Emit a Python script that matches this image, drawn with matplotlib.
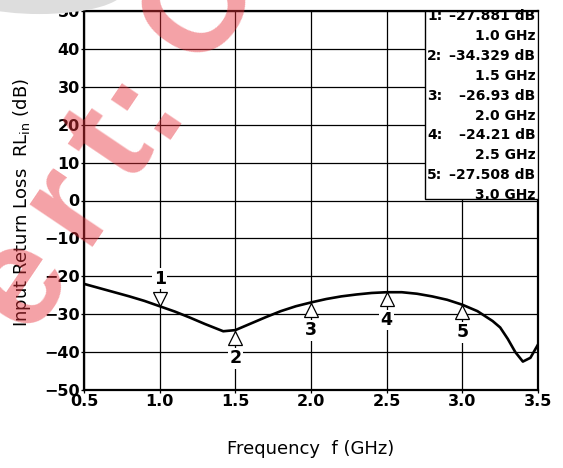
import matplotlib
matplotlib.use('Agg')
import matplotlib.pyplot as plt
from matplotlib.patches import Rectangle, Ellipse

plt.rcParams['font.family'] = ['DejaVu Sans']
plt.rcParams['mathtext.fontset'] = 'dejavusans'

# Measured curve (frequency in GHz, return loss in dB)
freq = [0.5, 0.6, 0.7, 0.8, 0.9, 1.0, 1.1, 1.2, 1.3, 1.42, 1.5, 1.6, 1.7,
        1.8, 1.9, 2.0, 2.1, 2.2, 2.3, 2.4, 2.5, 2.6, 2.7, 2.8, 2.9, 3.0,
        3.1, 3.2, 3.25, 3.3, 3.35, 3.4, 3.45, 3.5]
rl_db = [-22.0, -23.1, -24.2, -25.3, -26.5, -27.9, -29.3, -30.9, -32.6, -34.5,
         -34.2, -32.5, -30.8, -29.2, -27.9, -26.9, -26.0, -25.3, -24.8, -24.4,
         -24.2, -24.2, -24.6, -25.3, -26.2, -27.5, -29.2, -31.8, -33.5, -36.5,
         -40.0, -42.5, -41.5, -38.0]

# Markers
mk_id = ['1', '2', '3', '4', '5']
mk_freq = [1.0, 1.5, 2.0, 2.5, 3.0]
mk_db = [-27.881, -34.329, -26.93, -24.21, -27.508]
mk_val = ['\u201327.881 dB', '\u201334.329 dB', '\u201326.93 dB', '\u201324.21 dB', '\u201327.508 dB']
mk_ghz = ['1.0 GHz', '1.5 GHz', '2.0 GHz', '2.5 GHz', '3.0 GHz']

x_ticks = [0.5, 1.0, 1.5, 2.0, 2.5, 3.0, 3.5]
y_ticks = [-50, -40, -30, -20, -10, 0, 10, 20, 30, 40, 50]

# watermark letters (text, figure-pixel centre)
wm_chars = ['e', 'r', 't', ':', 'C']
wm_pos = [(20, 282), (68, 203), (112, 146), (140, 100), (200, 6)]

fig = plt.figure(figsize=(5.63, 4.68), dpi=100)
ax = fig.add_axes([84 / 563, 1 - 390 / 468, 454 / 563, 379 / 468])

ax.set_xlim(0.5, 3.5)
ax.set_ylim(-50, 50)
ax.set_xticks(x_ticks)
ax.set_yticks(y_ticks)
ax.set_xticklabels([f'{v:.1f}' for v in x_ticks])
ax.grid(True, color='black', linewidth=0.9)
ax.set_axisbelow(True)
for sp in ax.spines.values():
    sp.set_linewidth(1.6)
ax.tick_params(direction='out', length=2, width=0.9, pad=1, labelsize=11.5)
for lab in ax.get_xticklabels() + ax.get_yticklabels():
    lab.set_fontweight('bold')

ax.plot(freq, rl_db, color='black', linewidth=1.9, zorder=3)

# marker triangles and numbers
for i, (mid, f, d) in enumerate(zip(mk_id, mk_freq, mk_db)):
    if i == 0:
        ax.plot(f, d + 1.85, marker='v', markersize=10, markerfacecolor='white',
                markeredgecolor='black', markeredgewidth=0.9, zorder=4)
        ax.text(f, d + 7.3, mid, ha='center', va='center', fontsize=12.5,
                fontweight='bold', zorder=4,
                bbox=dict(facecolor='white', edgecolor='none', pad=1))
    else:
        ax.plot(f, d - 1.85, marker='^', markersize=10, markerfacecolor='white',
                markeredgecolor='black', markeredgewidth=0.9, zorder=4)
        ax.text(f, d - 7.3, mid, ha='center', va='center', fontsize=12.5,
                fontweight='bold', zorder=4,
                bbox=dict(facecolor='white', edgecolor='none', pad=1))

# marker readout box
ax.add_patch(Rectangle((2.75, 0.3), 0.75, 49.7, facecolor='white', edgecolor='black',
                       linewidth=1.0, zorder=5))
px_per_db = 379 / 100
for i in range(5):
    y1 = 50 - (16 + 19.9 * (2 * i) - 11) / px_per_db
    y2 = 50 - (16 + 19.9 * (2 * i + 1) - 11) / px_per_db
    ax.text(2.768, y1, mk_id[i] + ':', ha='left', va='center', fontsize=10,
            fontweight='bold', zorder=6)
    ax.text(3.482, y1, mk_val[i], ha='right', va='center', fontsize=10,
            fontweight='bold', zorder=6)
    ax.text(3.482, y2, mk_ghz[i], ha='right', va='center', fontsize=10,
            fontweight='bold', zorder=6)

ax.set_xlabel('Frequency  f (GHz)', fontsize=13, labelpad=22)
fig.text(22 / 563, 1 - 203 / 468, r'Input Return Loss  RL$_{\mathregular{in}}$ (dB)',
         rotation=90, ha='center', va='center', fontsize=13)

# watermark
fig.patches.append(Ellipse((0.07, 1.02), 0.3, 0.1, transform=fig.transFigure,
                           facecolor='#dddddd', edgecolor='none', zorder=0))
for ch, (px, py) in zip(wm_chars, wm_pos):
    fig.text(px / 563, 1 - py / 468, ch, rotation=56, rotation_mode='anchor',
             ha='center', va='center', fontsize=102, fontweight='bold',
             family='Liberation Sans', color='#e8303a', alpha=0.45, zorder=10)

fig.savefig('out.png', dpi=100)
